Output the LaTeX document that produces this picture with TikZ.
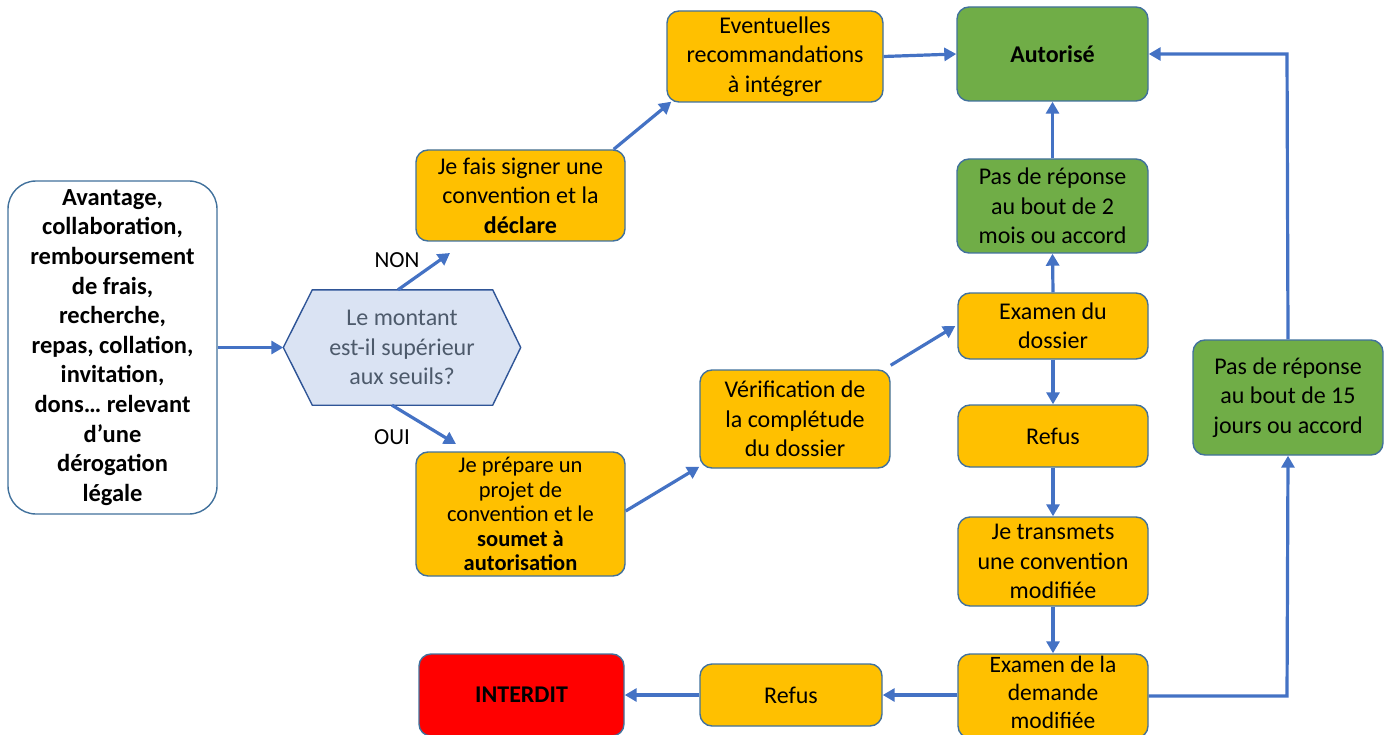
\documentclass[tikz,border=0pt]{standalone}
\usepackage{fontspec}
\setmainfont{Carlito}
\usetikzlibrary{arrows.meta,backgrounds}
\definecolor{borderc}{HTML}{41719C}
\definecolor{arrowc}{HTML}{4472C4}
\definecolor{orangec}{HTML}{FFC000}
\definecolor{greenc}{HTML}{70AD47}
\definecolor{redc}{HTML}{FF0000}
\definecolor{hexfill}{HTML}{DAE3F3}
\definecolor{hexborder}{HTML}{2F5597}
\definecolor{hextext}{HTML}{4D5A6B}
\tikzset{
  box/.style={draw=borderc, line width=1.4pt, rounded corners=12pt, align=center,
    inner sep=0pt, font=\fontsize{24}{29.5}\selectfont},
  obox/.style={box, fill=orangec},
  gbox/.style={box, fill=greenc},
  rbox/.style={box, fill=redc},
  sz/.style 2 args={minimum width=#1pt, minimum height=#2pt},
  conn/.style={draw=arrowc, line width=3.2pt, -{Triangle[length=12pt,width=13pt]}},
  lab/.style={font=\fontsize{23}{26}\selectfont}
}
\begin{document}
\begin{tikzpicture}[x=1pt,y=-1pt]
\useasboundingbox (0,0) rectangle (1391,735);
\clip (0,0) rectangle (1391,735);
% source box
\node[box, fill=white, rounded corners=28pt, sz={209}{333}, font=\fontsize{24.5}{29.6}\selectfont\bfseries] (src) at (112.5,347.5)
 {Avantage,\\collaboration,\\remboursement\\de frais,\\recherche,\\repas, collation,\\invitation,\\dons\dots{} relevant\\d’une\\dérogation\\légale};
% decision hexagon
\node[align=center, inner sep=0pt, minimum width=237pt, minimum height=115pt, text=hextext,
  font=\fontsize{24}{29.5}\selectfont] (hex) at (402,347.5) {Le montant\\est-il supérieur\\aux seuils?};
\begin{scope}[on background layer]
\draw[fill=hexfill, draw=hexborder, line width=1.4pt]
  (hex.west) -- ([xshift=29pt]hex.north west) -- ([xshift=-28pt]hex.north east) -- (hex.east)
  -- ([xshift=-28pt]hex.south east) -- ([xshift=29pt]hex.south west) -- cycle;
\end{scope}
% boxes
\node[obox, sz={209}{91}] (sign) at (520.5,195.5) {Je fais signer une\\convention et la\\\textbf{déclare}};
\node[obox, sz={209}{124}, font=\fontsize{22.5}{24.6}\selectfont] (prep) at (520.5,514) {Je prépare un\\projet de\\convention et le\\\textbf{soumet à}\\\textbf{autorisation}};
\node[obox, sz={216}{91}] (event) at (775,56.5) {Eventuelles\\recommandations\\à intégrer};
\node[gbox, sz={191}{94}] (auto) at (1052.5,54) {\textbf{Autorisé}};
\node[gbox, sz={191}{94}] (pas2) at (1052.5,206) {Pas de réponse\\au bout de 2\\mois ou accord};
\node[obox, sz={190}{66}] (exam) at (1053,326) {Examen du\\dossier};
\node[obox, sz={190}{62}] (refus1) at (1053,436) {Refus};
\node[obox, sz={190}{98}] (verif) at (795,419) {Vérification de\\la complétude\\du dossier};
\node[obox, sz={190}{89}] (transm) at (1053,561.5) {Je transmets\\une convention\\modifiée};
\node[obox, sz={190}{84}] (exam2) at (1053,696) {};
\node[align=center, inner sep=0pt, font=\fontsize{23.5}{28}\selectfont] (exam2t) at (1053,692) {Examen de la\\demande\\modifiée};
\node[obox, sz={182}{62}] (refus2) at (791,695) {Refus};
\node[rbox, sz={205}{82}] (interdit) at (521.5,695) {\textbf{INTERDIT}};
\node[gbox, sz={190}{115}] (pas15) at (1288,397.5) {Pas de réponse\\au bout de 15\\jours ou accord};
% labels
\node[lab] (non) at (397,260) {NON};
\node[lab] (oui) at (392,437) {OUI};
% free ends
\coordinate (nonend) at (450,253);
\coordinate (ouiend) at (456,444);
\coordinate (rtop) at (1287,54);
\coordinate (rbot) at (1287,696);
% connectors
\draw[conn] (src.east) -- (hex.west);
\draw[conn] ([xshift=-4pt]hex.north) -- (nonend);
\draw[conn] ([xshift=-10pt]hex.south) -- (ouiend);
\draw[conn] ([xshift=-12pt]sign.north east) -- ([xshift=5pt,yshift=1pt]event.south west);
\draw[conn] (event.east) -- (auto.west);
\draw[conn] ([yshift=3pt]prep.east) -- ([yshift=2pt]verif.south west);
\draw[conn] ([yshift=4pt]verif.north east) -- ([xshift=-2pt]exam.west);
\draw[conn] (exam.north) -- (pas2.south);
\draw[conn] (pas2.north) -- (auto.south);
\draw[conn] (exam.south) -- (refus1.north);
\draw[conn] (refus1.south) -- (transm.north);
\draw[conn] (transm.south) -- (exam2.north);
\draw[conn] (exam2.west |- refus2.east) -- (refus2.east);
\draw[conn] (refus2.west) -- (interdit.east);
\draw[conn] (exam2.east) -- (rbot) -- (pas15.south);
\draw[conn] (pas15.north) -- (rtop) -- (auto.east);
\end{tikzpicture}
\end{document}
